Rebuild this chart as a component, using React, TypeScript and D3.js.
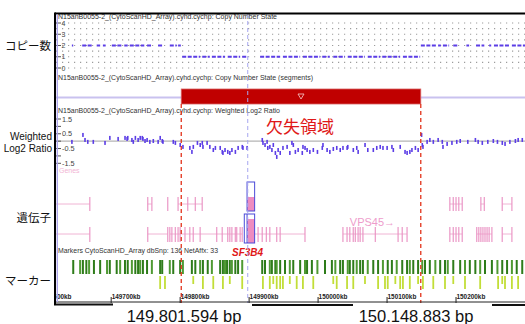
import * as d3 from 'd3';

// copy number state ticks and log2 ratio ticks
const cnTicks = [0, 1, 2, 3, 4];
const cnGrid = [0, 0.5, 1, 1.5, 2, 2.5, 3, 3.5, 4];
const lrTicks = [1.5, 1, 0.5, 0, -0.5, -1, -1.5];
const lrLabels = [1.5, 0.5, -0.5, -1.5];
const kbTicks = [149600, 149700, 149800, 149900, 150000, 150100, 150200];

// deletion breakpoints (kb)
const deletion = [149801.594, 150148.883];
const sf3b4Pos = 149898;

// copy number calls: [startKb, endKb, state]
const cnDashes: [number, number, number][] = [
  [149643, 149645, 2], [149658, 149672, 2], [149679, 149684, 2], [149688, 149692, 2],
  [149701, 149716, 2], [149719, 149724, 2], [149727, 149742, 2], [149743, 149748, 2],
  [149752, 149759, 2], [149768, 149775, 2], [149785, 149795, 2], [149797, 149801, 2],
  [149803, 149829, 1], [149832, 149843, 1], [149846, 149865, 1], [149869, 149887, 1],
  [149890, 149897, 1], [149916, 149945, 1], [149949, 149974, 1], [149978, 150003, 1],
  [150006, 150017, 1], [150022, 150039, 1], [150043, 150068, 1], [150072, 150090, 1],
  [150093, 150119, 1], [150123, 150148, 1],
  [150149, 150172, 2], [150174, 150178, 2], [150181, 150190, 2], [150196, 150203, 2],
  [150215, 150219, 2], [150229, 150241, 2], [150248, 150251, 2], [150255, 150278, 2],
  [150281, 150300, 2],
];

// weighted log2 ratio: [kb, value]
const log2Points: [number, number][] = [
  [149643, -0.05], [149659, 0.42], [149662, 0.08], [149666, -0.05], [149674, -0.05],
  [149691, -0.12], [149698, 0.22], [149710, 0.15], [149720, 0.22], [149723, 0.15],
  [149724, 0.22], [149730, 0.08], [149732, -0.05], [149735, 0.22], [149739, 0.08],
  [149742, 0.22], [149745, 0.22], [149746, 0.15], [149749, 0.01], [149752, 0.08],
  [149756, -0.05], [149761, 0.01], [149768, -0.05], [149771, 0.22], [149774, 0.01],
  [149775, -0.05], [149790, -0.05], [149793, -0.12],
  [149800, -0.26], [149804, -0.39], [149814, -0.46], [149817, -0.73], [149819, -0.39],
  [149825, -0.12], [149829, -0.26], [149832, -0.12], [149833, -0.39], [149839, -0.12],
  [149843, -0.39], [149848, -0.6], [149851, -0.46], [149858, -0.46], [149861, -0.73],
  [149862, -0.8], [149865, -0.6], [149869, -0.73], [149872, -0.8], [149875, -0.6],
  [149880, -0.73], [149884, -0.46], [149890, -0.39], [149891, -0.46], [149897, -0.46],
  [149919, 0.08], [149920, -0.12], [149923, -0.26], [149926, -0.05], [149927, -0.46],
  [149930, -0.39], [149933, -0.6], [149935, -0.26], [149938, -0.8], [149940, -1.07],
  [149942, -0.6], [149945, -0.8], [149949, -0.46], [149955, -0.39], [149959, -0.8],
  [149962, -0.12], [149964, -0.26], [149967, -0.73], [149971, -0.6], [149977, -0.8],
  [149978, -0.39], [149981, -0.46], [149984, -0.6], [149988, -0.73], [149993, -0.6],
  [149999, -0.73], [150006, -0.46], [150007, -0.26], [150013, -0.6], [150017, -0.73],
  [150022, -0.53], [150027, -0.46], [150032, -0.6], [150036, -0.46], [150042, -0.46],
  [150043, -0.39], [150051, -0.6], [150056, -0.46], [150058, -0.73], [150068, -0.26],
  [150072, -0.6], [150080, -0.6], [150085, -0.46], [150090, -0.39], [150094, -0.46],
  [150100, -0.46], [150107, -0.39], [150109, -0.6], [150119, -0.39], [150126, -0.73],
  [150129, -0.8], [150133, -0.73], [150136, -0.6], [150141, -0.46], [150145, -0.6],
  [150150, 0.42], [150151, -0.26], [150152, -0.39], [150158, -0.05], [150162, 0.08],
  [150167, -0.05], [150174, 0.08], [150180, -0.05], [150181, -0.39], [150187, -0.19],
  [150194, -0.12], [150201, -0.05], [150206, 0.01], [150217, -0.05], [150228, 0.08],
  [150232, -0.05], [150238, -0.12], [150246, -0.05], [150254, 0.01], [150260, -0.05],
  [150267, -0.12], [150271, -0.19], [150278, -0.05], [150286, 0.01], [150290, 0.08],
  [150296, 0.08],
];

// gene models: row, start, end, exon positions (kb)
type Gene = { row: number; start: number; end: number; exons: number[] };
const genes: Gene[] = [
  { row: 0, start: 149600, end: 149669, exons: [149669] },
  { row: 0, start: 149753, end: 149759, exons: [149753, 149759] },
  { row: 0, start: 149782, end: 149782, exons: [149782] },
  { row: 0, start: 149797, end: 149832, exons: [149797, 149811, 149822, 149832] },
  { row: 0, start: 150191, end: 150209, exons: [150191, 150196, 150200, 150204, 150209] },
  { row: 0, start: 150236, end: 150241, exons: [150236, 150241] },
  { row: 0, start: 150267, end: 150281, exons: [150267, 150281] },
  { row: 1, start: 149600, end: 149669, exons: [149669] },
  { row: 1, start: 149753, end: 149782, exons: [149753, 149782] },
  { row: 1, start: 149785, end: 149890, exons: [149785, 149788, 149793, 149797, 149800, 149807, 149814, 149819, 149829, 149853, 149861, 149869, 149872, 149875, 149880, 149882, 149887, 149890] },
  { row: 1, start: 149908, end: 149981, exons: [149913, 149919, 149925, 149930, 149940, 149945, 149981] },
  { row: 1, start: 150036, end: 150129, exons: [150036, 150042, 150046, 150051, 150054, 150058, 150061, 150065, 150083, 150116, 150122, 150129] },
  { row: 1, start: 150191, end: 150209, exons: [150191, 150196, 150200, 150204, 150209] },
  { row: 1, start: 150230, end: 150252, exons: [150230, 150233, 150236, 150239, 150242, 150245, 150248, 150252] },
  { row: 1, start: 150267, end: 150281, exons: [150267, 150281] },
];
const sf3b4 = { start: 149897, end: 149908, outerStart: 149893 };
const vps45Label = { kb: 150046, text: 'VPS45→' };

// marker positions (kb)
const dbSnpMarkers = [
  149645, 149655, 149659, 149664, 149668, 149675, 149684, 149694, 149698, 149708,
  149713, 149720, 149724, 149730, 149735, 149739, 149742, 149746, 149752, 149759,
  149771, 149774, 149785, 149790, 149800, 149804, 149817, 149822, 149829, 149833,
  149840, 149846, 149858, 149862, 149865, 149868, 149872, 149875, 149880, 149884,
  149890, 149919, 149923, 149930, 149933, 149938, 149940, 149945, 149952, 149959,
  149964, 149974, 149981, 149984, 149991, 149999, 150010, 150020, 150025, 150032,
  150036, 150043, 150046, 150051, 150056, 150061, 150065, 150072, 150080, 150087,
  150094, 150101, 150107, 150114, 150122, 150129, 150133, 150138, 150145, 150151,
  150155, 150162, 150170, 150177, 150184, 150188, 150196, 150206, 150213, 150220,
  150228, 150235, 150242, 150252, 150260, 150267, 150274, 150281, 150288, 150296,
];
const netAffxMarkers = [
  149771, 149778, 149819, 149833, 149848, 149862, 149872, 149890, 149920, 149930,
  149935, 149940, 149945, 149949, 149959, 149969, 149978, 149993, 150022, 150027,
  150042, 150051, 150068, 150087, 150097, 150101, 150112, 150119, 150123, 150133,
  150145, 150152, 150167, 150184, 150196, 150213, 150235, 150261, 150267, 150271,
  150281, 150290,
];

const title1 = 'N15anB0055-2_(CytoScanHD_Array).cyhd.cychp: Copy Number State';
const title2 = 'N15anB0055-2_(CytoScanHD_Array).cyhd.cychp: Copy Number State (segments)';
const title3 = 'N15anB0055-2_(CytoScanHD_Array).cyhd.cychp: Weighted Log2 Ratio';
const title4 = 'Markers CytoScanHD_Array dbSnp: 136 NetAffx: 33';

const W = 525;
const H = 324;
const L = 56;
const sans = '"Liberation Sans", Arial, sans-serif';
const jp = '"Noto Sans CJK JP", sans-serif';
const purple = '#5b3de6';
const pink = '#ea8fc2';

export default function App() {
  const x = d3.scaleLinear().domain([149620, 150300]).range([L, W]);
  const cnY = d3.scaleLinear().domain([0, 4]).range([68, 23]);
  const lrY = d3.scaleLinear().domain([-1.5, 1.5]).range([163.3, 119]);
  const rowY = [204, 234];
  const exonH = [[197, 211], [227, 242]];

  return (
    <svg width={W} height={H} style={{ position: 'absolute', left: 0, top: 0, background: '#fff' }} fontFamily={sans}>
      <defs>
        <clipPath id="plot"><rect x={L} y={0} width={W - L} height={H} /></clipPath>
      </defs>

      {/* left labels */}
      <g fontFamily={jp} fontSize={11.5} textAnchor="end" fill="#111">
        <text x={51} y={50}>コピー数</text>
        <text x={51} y={222}>遺伝子</text>
        <text x={51} y={285}>マーカー</text>
      </g>
      <g fontSize={10} textAnchor="end" fill="#111">
        <text x={52} y={140}>Weighted</text>
        <text x={52} y={152}>Log2 Ratio</text>
      </g>

      <g clipPath="url(#plot)">
        {/* copy number state panel */}
        <text x={58} y={18.5} fontSize={7.3} fill="#333" textLength={219} lengthAdjust="spacingAndGlyphs">{title1}</text>
        {cnGrid.map(v => (
          <line key={v} x1={L} x2={W} y1={cnY(v)} y2={cnY(v)} stroke="#9c9c9c" strokeWidth={1.2} strokeDasharray="1.2,4.8" />
        ))}
        {cnTicks.map(v => (
          <g key={v}>
            <line x1={L} x2={61} y1={cnY(v)} y2={cnY(v)} stroke="#555" />
            <text x={61.5} y={cnY(v) + 2.5} fontSize={7} fill="#444">{v}</text>
          </g>
        ))}
        {cnDashes.map(([s, e, c], i) => (
          <line key={i} x1={x(s)} x2={x(e)} y1={cnY(c)} y2={cnY(c)} stroke={purple} strokeWidth={2} strokeDasharray="4,1.5" />
        ))}

        {/* segments panel */}
        <text x={58} y={79.5} fontSize={7.3} fill="#333" textLength={255} lengthAdjust="spacingAndGlyphs">{title2}</text>
        <line x1={L} x2={x(deletion[0])} y1={97.5} y2={97.5} stroke="#c9c2ef" strokeWidth={2} />
        <line x1={x(deletion[1])} x2={W} y1={97.5} y2={97.5} stroke="#c9c2ef" strokeWidth={2} />
        <rect x={x(deletion[0])} y={89} width={x(deletion[1]) - x(deletion[0])} height={15} fill="#c00000" stroke="#d86060" strokeWidth={0.8} />
        <path
          d={`M${(x(deletion[0]) + x(deletion[1])) / 2 - 3},94 h6 l-3,5 z`}
          fill="none" stroke="#f3b8b8" strokeWidth={0.9}
        />

        {/* weighted log2 ratio panel */}
        <text x={58} y={113} fontSize={7.3} fill="#333" textLength={222} lengthAdjust="spacingAndGlyphs">{title3}</text>
        <line x1={L} x2={W} y1={lrY(0)} y2={lrY(0)} stroke="#b4b4b4" strokeWidth={1.3} />
        {lrTicks.map(v => (
          <line key={v} x1={L} x2={61} y1={lrY(v)} y2={lrY(v)} stroke="#555" />
        ))}
        {lrLabels.map(v => (
          <text key={v} x={62} y={lrY(v) + 2.5} fontSize={7.3} fill="#444">{v}</text>
        ))}
        {log2Points.map(([k, v], i) => (
          <rect key={i} x={x(k) - 0.75} y={lrY(v) - 2} width={1.6} height={4} fill={purple} />
        ))}
        <text x={59} y={173} fontSize={7} fill="#f2b4d4">Genes</text>
        <text x={266} y={133} fontFamily={jp} fontSize={17} fill="#e01818">欠失領域</text>

        {/* genes */}
        {genes.map((g, i) => (
          <g key={i}>
            <line x1={x(g.start)} x2={x(g.end)} y1={rowY[g.row]} y2={rowY[g.row]} stroke="#f0b4d4" strokeWidth={1} />
            {g.exons.map((e, j) => (
              <line key={j} x1={x(e)} x2={x(e)} y1={exonH[g.row][0]} y2={exonH[g.row][1]} stroke={pink} strokeWidth={1.3} opacity={0.85} />
            ))}
          </g>
        ))}
        <rect x={x(sf3b4.start)} y={197} width={x(sf3b4.end) - x(sf3b4.start)} height={14} fill="#ee8cc0" />
        <rect x={x(sf3b4.start)} y={182} width={x(sf3b4.end) - x(sf3b4.start)} height={29} fill="none" stroke="#4a4ad8" strokeWidth={1} />
        <rect x={x(sf3b4.start)} y={219} width={x(sf3b4.end) - x(sf3b4.start)} height={24} fill="#ee8cc0" />
        <rect x={x(sf3b4.outerStart)} y={214} width={x(sf3b4.end) - x(sf3b4.outerStart)} height={29} fill="none" stroke="#4a4ad8" strokeWidth={1} />
        <line x1={x(sf3b4.start)} x2={x(sf3b4.start)} y1={214} y2={243} stroke="#4a4ad8" strokeWidth={1} />
        <text x={x(vps45Label.kb)} y={226} fontSize={11} fill="#ee9ccb">{vps45Label.text}</text>

        {/* markers */}
        <text x={58} y={253} fontSize={6.6} fill="#333" textLength={160} lengthAdjust="spacingAndGlyphs">{title4}</text>
        <text x={232} y={256} fontSize={10} fontWeight="bold" fontStyle="italic" fill="#e01818">SF3B4</text>
        {dbSnpMarkers.map((k, i) => (
          <line key={i} x1={x(k)} x2={x(k)} y1={260} y2={274} stroke={i % 3 === 1 ? '#4f9a33' : '#2e7c1a'} strokeWidth={2} />
        ))}
        {netAffxMarkers.map((k, i) => (
          <line key={i} x1={x(k)} x2={x(k)} y1={276} y2={i % 4 === 2 ? 284 : 289} stroke="#c2de38" strokeWidth={1.8} />
        ))}

        {/* breakpoints and SF3B4 guide */}
        {deletion.map(k => (
          <line key={k} x1={x(k)} x2={x(k)} y1={104} y2={303} stroke="#e2321a" strokeWidth={1.3} strokeDasharray="4,3" />
        ))}
        <line x1={x(sf3b4Pos)} x2={x(sf3b4Pos)} y1={14} y2={303} stroke="#a6a6f0" strokeWidth={1} strokeDasharray="4,3" />

        {/* kb axis */}
        <line x1={L} x2={W} y1={302} y2={302} stroke="#222" strokeWidth={1} />
        {kbTicks.map(k => (
          <g key={k}>
            <line x1={x(k)} x2={x(k)} y1={297} y2={303} stroke="#222" strokeWidth={1} />
            <text x={x(k) + 0.5} y={299} fontSize={6.4} fontWeight="bold" fill="#222">{`${k}kb`}</text>
          </g>
        ))}
        <line x1={L} x2={113} y1={304.5} y2={304.5} stroke="#111" strokeWidth={2} />
        <line x1={252} x2={353} y1={305} y2={305} stroke="#111" strokeWidth={2} />
        <line x1={492} x2={W} y1={305} y2={305} stroke="#111" strokeWidth={2} />
      </g>

      {/* frame */}
      <line x1={55} x2={W} y1={13.5} y2={13.5} stroke="#000" strokeWidth={2} />
      <line x1={55} x2={55} y1={12.5} y2={305.5} stroke="#000" strokeWidth={2} />
      <line x1={57.3} x2={57.3} y1={14.5} y2={302} stroke="#aaa3ec" strokeWidth={1.3} />

      {/* breakpoint labels */}
      <g fontSize={16.5} textAnchor="middle" fill="#111">
        <text x={184} y={322}>149.801.594 bp</text>
        <text x={416} y={322}>150.148.883 bp</text>
      </g>
    </svg>
  );
}
